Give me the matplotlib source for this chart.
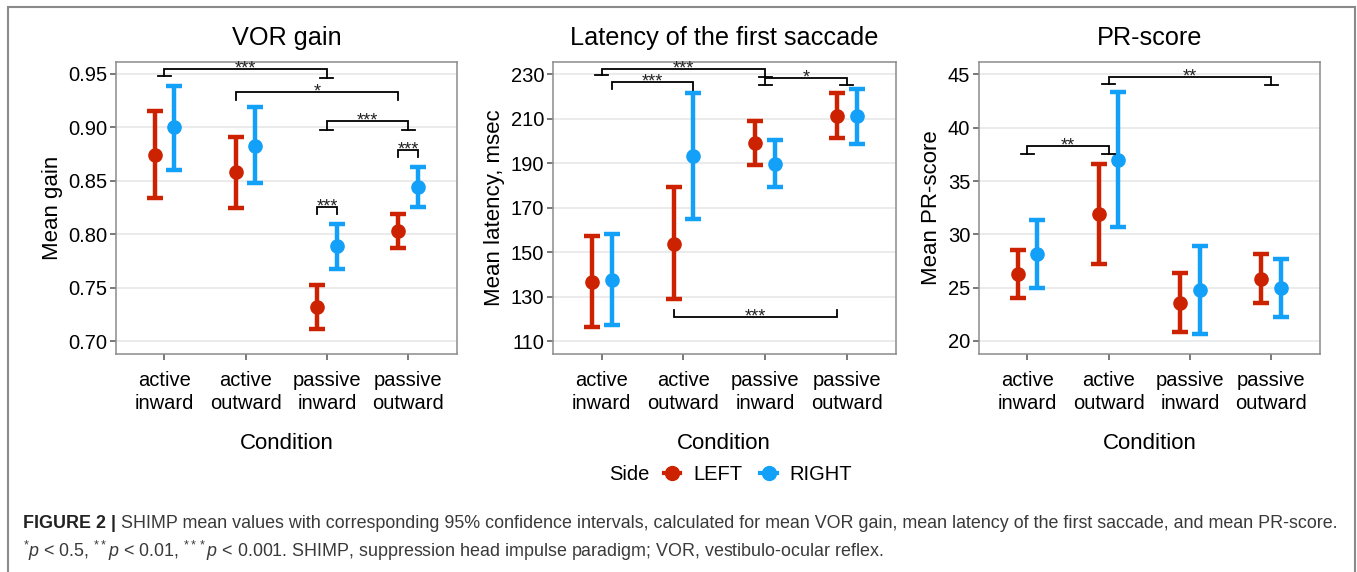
#!/usr/bin/env python3
"""
plot.py — SHIMP mean values with 95% confidence intervals (three panels).
"""

from __future__ import annotations

import matplotlib

matplotlib.use("Agg")
import matplotlib.pyplot as plt
from matplotlib.lines import Line2D
from matplotlib.patches import Rectangle
from matplotlib.text import Annotation

# ---------------------------------------------------------------------------
# Data
# ---------------------------------------------------------------------------

conditions = ["active\ninward", "active\noutward", "passive\ninward", "passive\noutward"]
sides = ["LEFT", "RIGHT"]

# VOR gain
gain_left_mean = [0.874, 0.858, 0.732, 0.803]
gain_left_low = [0.834, 0.825, 0.711, 0.787]
gain_left_high = [0.915, 0.891, 0.753, 0.819]
gain_right_mean = [0.900, 0.883, 0.789, 0.844]
gain_right_low = [0.860, 0.848, 0.768, 0.826]
gain_right_high = [0.939, 0.919, 0.810, 0.863]

# Latency of the first saccade, msec
lat_left_mean = [136.7, 153.7, 199.3, 211.4]
lat_left_low = [116.5, 128.9, 189.2, 201.4]
lat_left_high = [157.3, 179.2, 209.2, 221.5]
lat_right_mean = [137.5, 193.3, 189.8, 211.1]
lat_right_low = [117.1, 164.8, 179.5, 198.8]
lat_right_high = [158.0, 221.8, 200.5, 223.4]

# PR-score
pr_left_mean = [26.25, 31.9, 23.53, 25.81]
pr_left_low = [24.06, 27.25, 20.81, 23.53]
pr_left_high = [28.5, 36.6, 26.34, 28.19]
pr_right_mean = [28.16, 36.97, 24.78, 24.94]
pr_right_low = [24.97, 30.66, 20.69, 22.28]
pr_right_high = [31.31, 43.31, 28.9, 27.66]

# Significance brackets: (x_left, x_right, y_line, y_tip_left, y_tip_right, label, caps)
# x positions are category index (1-based) with +/-0.12 for LEFT/RIGHT dodge
gain_brackets = [
    (1.0, 3.0, 0.9547, 0.9485, 0.9465, "***", True),
    (1.88, 3.88, 0.933, 0.926, 0.926, "*", False),
    (3.0, 4.0, 0.9056, 0.898, 0.898, "***", True),
    (2.88, 3.12, 0.826, 0.819, 0.819, "***", False),
    (3.88, 4.12, 0.879, 0.872, 0.872, "***", False),
]
lat_brackets = [
    (1.0, 3.0, 232.4, 229.7, 229.0, "***", True),
    (1.12, 2.12, 226.55, 223.4, 223.0, "***", False),
    (3.0, 4.0, 228.2, 225.2, 225.2, "*", True),
    (1.88, 3.88, 120.95, 123.95, 123.95, "***", False),
]
pr_brackets = [
    (2.0, 4.0, 44.78, 44.06, 43.97, "**", True),
    (1.0, 2.0, 38.28, 37.53, 37.53, "**", True),
]

# ---------------------------------------------------------------------------
# Style
# ---------------------------------------------------------------------------

RED = "#cc2200"
BLUE = "#12a0f8"
DODGE = 0.12
FONT = "Liberation Sans"

plt.rcParams["font.family"] = [FONT, "DejaVu Sans"]
plt.rcParams["mathtext.fontset"] = "custom"
plt.rcParams["mathtext.rm"] = FONT
plt.rcParams["mathtext.it"] = f"{FONT}:italic"


def draw_panel(ax, title, ylabel, ylim, yticks, yfmt, left, right, brackets):
    x = list(range(1, len(conditions) + 1))
    for (mean, low, high), color, shift in (
        (left, RED, -DODGE),
        (right, BLUE, DODGE),
    ):
        xs = [xi + shift for xi in x]
        err = [
            [m - lo for m, lo in zip(mean, low)],
            [hi - m for m, hi in zip(mean, high)],
        ]
        ax.errorbar(
            xs, mean, yerr=err, fmt="o", color=color, ecolor=color,
            elinewidth=3.2, capsize=6, capthick=3.2, markersize=9.5, zorder=3,
        )

    for x1, x2, y, t1, t2, label, caps in brackets:
        ax.plot([x1, x1, x2, x2], [t1, y, y, t2], color="black", lw=1.3, zorder=4,
                solid_joinstyle="miter")
        if caps:
            ax.plot([x1 - 0.08, x1 + 0.08], [t1, t1], color="black", lw=1.3, zorder=4)
            ax.plot([x2 - 0.08, x2 + 0.08], [t2, t2], color="black", lw=1.3, zorder=4)
        ax.annotate(label, xy=((x1 + x2) / 2, y), xytext=(0, 0),
                    textcoords="offset points", ha="center", va="center",
                    fontsize=13, color="#222222", zorder=5)

    ax.set_xlim(0.4, 4.6)
    ax.set_ylim(*ylim)
    ax.set_xticks(x)
    ax.set_xticklabels(conditions, fontsize=14.5, linespacing=1.3)
    ax.tick_params(axis="x", pad=8)
    ax.set_yticks(yticks)
    ax.set_yticklabels([yfmt.format(v) for v in yticks], fontsize=14.5)
    ax.tick_params(axis="both", colors="#555555", length=4, width=1.1,
                   labelcolor="black")
    ax.tick_params(axis="y", pad=2)
    ax.grid(axis="y", color="#e6e6e6", lw=1.1)
    ax.set_axisbelow(True)
    for spine in ax.spines.values():
        spine.set_color("#8c8c8c")
        spine.set_linewidth(1.1)
    ax.set_title(title, fontsize=18.2, pad=12)
    ax.set_ylabel(ylabel, fontsize=16, labelpad=4)
    ax.set_xlabel("Condition", fontsize=16, labelpad=14)


def main() -> None:
    W, H = 1357, 572
    fig = plt.figure(figsize=(W / 100, H / 100), dpi=100)

    def box(left_px, right_px, top_px=61.7, bottom_px=354):
        return [left_px / W, 1 - bottom_px / H, (right_px - left_px) / W,
                (bottom_px - top_px) / H]

    ax1 = fig.add_axes(box(115.7, 457))
    ax2 = fig.add_axes(box(552.7, 895.7))
    ax3 = fig.add_axes(box(978.7, 1320))

    draw_panel(ax1, "VOR gain", "Mean gain", (0.688, 0.9615),
               [0.70, 0.75, 0.80, 0.85, 0.90, 0.95], "{:.2f}",
               (gain_left_mean, gain_left_low, gain_left_high),
               (gain_right_mean, gain_right_low, gain_right_high), gain_brackets)
    draw_panel(ax2, "Latency of the first saccade", "Mean latency, msec", (104.15, 235.7),
               [110, 130, 150, 170, 190, 210, 230], "{:d}",
               (lat_left_mean, lat_left_low, lat_left_high),
               (lat_right_mean, lat_right_low, lat_right_high), lat_brackets)
    draw_panel(ax3, "PR-score", "Mean PR-score", (18.78, 46.19),
               [20, 25, 30, 35, 40, 45], "{:d}",
               (pr_left_mean, pr_left_low, pr_left_high),
               (pr_right_mean, pr_right_low, pr_right_high), pr_brackets)

    # Legend row
    handles = [
        Line2D([], [], color=c, marker="o", lw=3, markersize=10)
        for c in (RED, BLUE)
    ]
    fig.text(650 / W, 1 - 475 / H, "Side", ha="right", va="center", fontsize=14.5)
    fig.legend(handles, sides, loc="center left", bbox_to_anchor=(664 / W, 1 - 475 / H),
               ncol=2, frameon=False, fontsize=14.5, handlelength=0.8,
               handletextpad=0.65, columnspacing=0.9, borderpad=0, borderaxespad=0)

    # Outer frame
    fig.patches.append(Rectangle((8 / W, -0.1), (1355 - 8) / W, 1.1 - 7 / H,
                                 transform=fig.transFigure, fill=False,
                                 edgecolor="#8a8a8a", lw=1.5))

    # Caption
    cap_size = 12.85
    t1 = fig.text(23 / W, 1 - 524 / H, "FIGURE 2 | ", fontweight="bold",
                  fontsize=cap_size, va="center", color="#222222")
    fig.add_artist(Annotation(
        "SHIMP mean values with corresponding 95% confidence intervals, calculated for "
        "mean VOR gain, mean latency of the first saccade, and mean PR-score.",
        xy=(1, 0.5), xycoords=t1, va="center", ha="left", fontsize=cap_size,
        color="#3a3a3a"))
    fig.text(23 / W, 1 - 551 / H,
             r"$^{*}\mathit{p}$ < 0.5, $^{**}\mathit{p}$ < 0.01, $^{***}\mathit{p}$ < 0.001. "
             "SHIMP, suppression head impulse paradigm; VOR, vestibulo-ocular reflex.",
             fontsize=cap_size, va="center", color="#3a3a3a")

    fig.savefig("out.png", dpi=100)


if __name__ == "__main__":
    main()
